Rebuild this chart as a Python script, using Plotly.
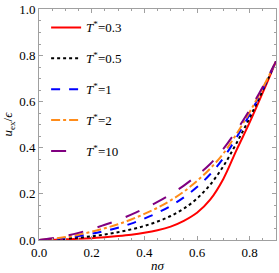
import plotly.graph_objects as go

n_sigma = [0.0, 0.05, 0.1, 0.15, 0.2, 0.25, 0.3, 0.35, 0.4, 0.45, 0.5, 0.55, 0.6, 0.65, 0.7, 0.75, 0.8, 0.85, 0.9]

u_T03 = [0.0, 0.001, 0.003, 0.005, 0.008, 0.012, 0.017, 0.023, 0.031, 0.042, 0.058, 0.083, 0.118, 0.175, 0.265, 0.39, 0.51, 0.64, 0.775]
u_T05 = [0.0, 0.002, 0.005, 0.010, 0.016, 0.024, 0.034, 0.046, 0.061, 0.080, 0.104, 0.136, 0.18, 0.24, 0.32, 0.42, 0.53, 0.65, 0.775]
u_T1 = [0.0, 0.003, 0.009, 0.017, 0.027, 0.039, 0.053, 0.071, 0.093, 0.118, 0.148, 0.185, 0.23, 0.285, 0.355, 0.445, 0.545, 0.655, 0.775]
u_T2 = [0.0, 0.005, 0.013, 0.023, 0.036, 0.051, 0.068, 0.089, 0.113, 0.140, 0.172, 0.210, 0.256, 0.31, 0.375, 0.46, 0.555, 0.66, 0.775]
u_T10 = [0.0, 0.008, 0.018, 0.031, 0.047, 0.066, 0.086, 0.110, 0.136, 0.165, 0.198, 0.236, 0.28, 0.33, 0.395, 0.475, 0.565, 0.665, 0.775]

x_ticks = [0.0, 0.2, 0.4, 0.6, 0.8]
y_ticks = [0.0, 0.2, 0.4, 0.6, 0.8, 1.0]

labels = ["0.3", "0.5", "1", "2", "10"]
series = [u_T03, u_T05, u_T1, u_T2, u_T10]
colors = ["#ff0000", "#000000", "#0000ff", "#ff8c1a", "#800080"]
dashes = ["solid", "dot", "dash", "dashdot", "longdash"]

fig = go.Figure()
for i, (lab, ys, c, d) in enumerate(zip(labels, series, colors, dashes)):
    fig.add_trace(go.Scatter(
        x=n_sigma, y=ys, mode="lines", line_shape="spline",
        line=dict(color=c, dash=d, width=2),
        name="<i>T</i><sup>*</sup>=" + lab, legendgroup=f"g{i}",
    ))

font_family = "Times New Roman"
axis_common = dict(
    showline=True, linecolor="#a0a0a0", linewidth=1, mirror="ticks",
    ticks="inside", ticklen=4, tickcolor="#a0a0a0",
    showgrid=False, zeroline=False,
    tickfont=dict(family=font_family, size=13, color="#000000"),
    tickformat=".1f", tickmode="array",
)

fig.update_layout(
    width=279, height=273,
    margin=dict(l=39, r=2, t=8, b=30),
    paper_bgcolor="white", plot_bgcolor="white",
    font=dict(family=font_family, color="#000000"),
    xaxis=dict(range=[0, 0.9], tickvals=x_ticks,
               minor=dict(ticks="inside", dtick=0.05, tick0=0, ticklen=2, tickcolor="#a0a0a0"),
               title=dict(text="<i>nσ</i>", font=dict(family=font_family, size=13), standoff=2),
               **axis_common),
    yaxis=dict(range=[0, 1.002], tickvals=y_ticks,
               minor=dict(ticks="inside", dtick=0.05, tick0=0, ticklen=2, tickcolor="#a0a0a0"),
               title=dict(text="<i>u</i><sub>ex</sub>/<i>ϵ</i>", font=dict(family=font_family, size=13), standoff=6),
               **axis_common),
    legend=dict(x=0.03, y=0.985, xanchor="left", yanchor="top",
                bgcolor="rgba(0,0,0,0)", tracegroupgap=11,
                font=dict(family=font_family, size=13), itemwidth=30),
    showlegend=True,
)

fig.write_html("out.html", config={"displayModeBar": False},
               post_script="document.body.style.margin='0';document.body.style.overflow='hidden';")
